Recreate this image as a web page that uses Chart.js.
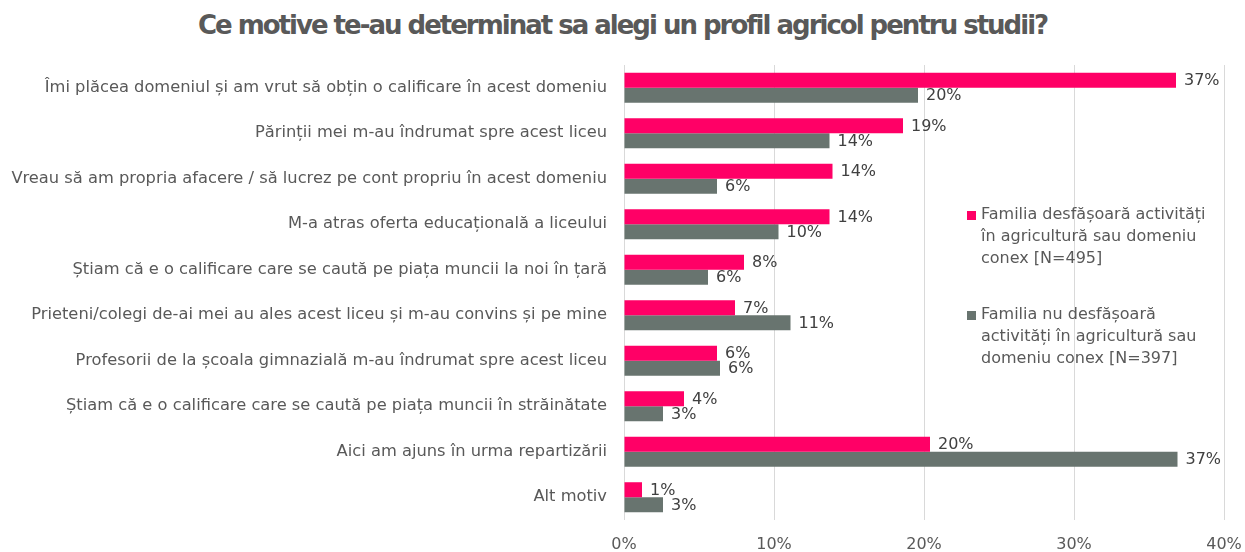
<!DOCTYPE html>
<html>
<head>
<meta charset="utf-8">
<script src="https://cdn.jsdelivr.net/npm/chart.js@4"></script>
<style>
  html, body { margin: 0; padding: 0; background: #fff; }
  #wrap { position: relative; width: 1245px; height: 552px; }
  #title {
    position: absolute; left: 0; top: 10px; width: 1245px; text-align: center;
    font-family: 'DejaVu Sans', sans-serif; font-weight: bold; font-size: 26px;
    letter-spacing: -2px; color: #595959;
  }
  canvas { position: absolute; left: 0; top: 0; }
</style>
</head>
<body>
<div id="wrap">
  <div id="title">Ce motive te-au determinat sa alegi un profil agricol pentru studii?</div>
  <canvas id="chart" width="1245" height="552"></canvas>
</div>
<script>
const categories = [
  "Îmi plăcea domeniul și am vrut să obțin o calificare în acest domeniu",
  "Părinții mei m-au îndrumat spre acest liceu",
  "Vreau să am propria afacere / să lucrez pe cont propriu în acest domeniu",
  "M-a atras oferta educațională a liceului",
  "Știam că e o calificare care se caută pe piața muncii la noi în țară",
  "Prieteni/colegi de-ai mei au ales acest liceu și m-au convins și pe mine",
  "Profesorii de la școala gimnazială m-au îndrumat spre acest liceu",
  "Știam că e o calificare care se caută pe piața muncii în străinătate",
  "Aici am ajuns în urma repartizării",
  "Alt motiv"
];
const seriesNames = [
  "Familia desfășoară activități în agricultură sau domeniu conex [N=495]",
  "Familia nu desfășoară activități în agricultură sau domeniu conex [N=397]"
];
// legend lines as wrapped in the original
const legendLines = [
  ["Familia desfășoară activități", "în agricultură sau domeniu", "conex [N=495]"],
  ["Familia nu desfășoară", "activități în agricultură sau", "domeniu conex [N=397]"]
];
const familyAgri = [36.8, 18.6, 13.9, 13.7, 8.0, 7.4, 6.2, 4.0, 20.4, 1.2];
const familyOther = [19.6, 13.7, 6.2, 10.3, 5.6, 11.1, 6.4, 2.6, 36.9, 2.6];
const xTicks = [0, 10, 20, 30, 40];

const FONT = "'DejaVu Sans', sans-serif";

// value labels at the end of each bar
const valueLabels = {
  id: 'valueLabels',
  afterDatasetsDraw(chart) {
    const ctx = chart.ctx;
    ctx.save();
    ctx.font = '16px ' + FONT;
    ctx.fillStyle = '#404040';
    ctx.textAlign = 'left';
    ctx.textBaseline = 'middle';
    chart.data.datasets.forEach((ds, i) => {
      chart.getDatasetMeta(i).data.forEach((bar, j) => {
        ctx.fillText(Math.round(ds.data[j]) + '%', bar.x + 8, bar.y + 1);
      });
    });
    ctx.restore();
  }
};

// legend drawn inside plot area on the right, with wrapped text
const sideLegend = {
  id: 'sideLegend',
  afterDraw(chart) {
    const ctx = chart.ctx;
    ctx.save();
    ctx.font = '16px ' + FONT;
    ctx.textAlign = 'left';
    ctx.textBaseline = 'middle';
    const tops = [215, 315];
    chart.data.datasets.forEach((ds, i) => {
      ctx.fillStyle = ds.backgroundColor;
      ctx.fillRect(967, tops[i] - 4, 9, 9);
      ctx.fillStyle = '#595959';
      legendLines[i].forEach((line, k) => {
        ctx.fillText(line, 981, tops[i] + k * 22);
      });
    });
    ctx.restore();
  }
};

new Chart(document.getElementById('chart'), {
  type: 'bar',
  data: {
    labels: categories,
    datasets: [
      {
        label: seriesNames[0],
        data: familyAgri,
        backgroundColor: '#ff0066',
        categoryPercentage: 0.66,
        barPercentage: 1.0
      },
      {
        label: seriesNames[1],
        data: familyOther,
        backgroundColor: '#68746f',
        categoryPercentage: 0.66,
        barPercentage: 1.0
      }
    ]
  },
  options: {
    indexAxis: 'y',
    responsive: false,
    animation: false,
    layout: { padding: { top: 65, right: 21, left: 0, bottom: 0 } },
    plugins: {
      legend: { display: false },
      tooltip: { enabled: false },
      title: { display: false }
    },
    scales: {
      x: {
        min: 0,
        max: 40,
        afterBuildTicks(scale) { scale.ticks = xTicks.map(v => ({ value: v })); },
        afterFit(scale) { scale.height = 32; scale.paddingRight = 0; scale.paddingLeft = 0; },
        grid: { color: '#d9d9d9', drawTicks: false },
        border: { display: false },
        ticks: {
          padding: 15,
          color: '#595959',
          font: { family: FONT, size: 16 },
          callback: v => v + '%'
        }
      },
      y: {
        afterFit(scale) { scale.width = 624; },
        grid: { display: false },
        border: { display: false },
        ticks: {
          padding: 9,
          color: '#595959',
          font: { family: FONT, size: 16.3 },
          autoSkip: false
        }
      }
    }
  },
  plugins: [valueLabels, sideLegend]
});
</script>
</body>
</html>
